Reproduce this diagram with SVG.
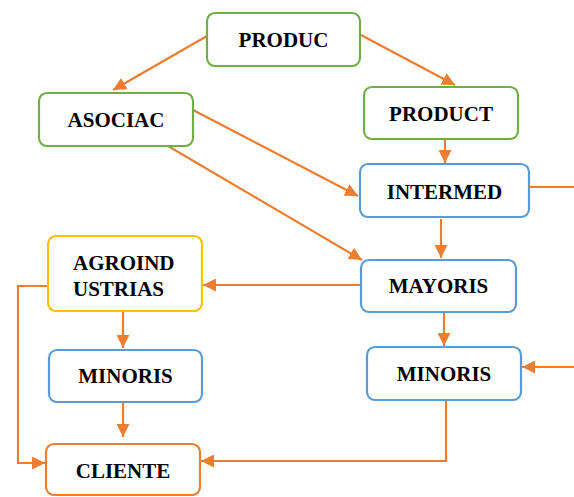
<svg xmlns="http://www.w3.org/2000/svg" width="574" height="497" viewBox="0 0 574 497">
<style>
.box{fill:#fff;stroke-width:2.2}
.g{stroke:#70AD47}
.b{stroke:#5B9BD5}
.y{stroke:#FFC000}
.o{stroke:#ED7D31}
.t{font-family:"Liberation Serif","Times New Roman",serif;font-weight:bold;font-size:21px;fill:#000;text-anchor:middle}
.c{stroke:#ED7D31;stroke-width:2.2;fill:none}
.a{marker-end:url(#ah)}
</style>
<defs>
<marker id="ah" markerUnits="userSpaceOnUse" markerWidth="13" markerHeight="13" refX="13" refY="6.5" orient="auto">
<path d="M0,0 L13,6.5 L0,13 z" fill="#ED7D31"/>
</marker>
</defs>
<rect width="574" height="497" fill="#fff"/>
<g id="connectors">
<line class="c a" x1="207" y1="36" x2="113" y2="90"/>
<line class="c a" x1="361" y1="35" x2="455" y2="85"/>
<line class="c a" x1="445" y1="140" x2="445" y2="163"/>
<line class="c a" x1="193" y1="110" x2="358" y2="196"/>
<line class="c a" x1="168" y1="146" x2="362" y2="260"/>
<line class="c a" x1="441" y1="219" x2="441" y2="258"/>
<line class="c" x1="530" y1="187" x2="574" y2="187"/>
<line class="c a" x1="361" y1="285" x2="203" y2="285"/>
<line class="c a" x1="444" y1="312" x2="444" y2="346"/>
<line class="c a" x1="574" y1="367" x2="522" y2="367"/>
<polyline class="c a" points="446,400 446,461 201,461"/>
<line class="c a" x1="123" y1="312" x2="123" y2="348"/>
<line class="c a" x1="123" y1="403" x2="123" y2="437"/>
<polyline class="c a" points="48,286 18,286 18,463 45,463"/>
</g>
<g id="produc">
<rect class="box g" x="207" y="13" width="153" height="53" rx="8"/>
<text class="t" x="283.5" y="47">PRODUC</text>
</g>
<g id="asociac">
<rect class="box g" x="39" y="93" width="154" height="53" rx="8"/>
<text class="t" x="116" y="127">ASOCIAC</text>
</g>
<g id="product">
<rect class="box g" x="364" y="87" width="154" height="52" rx="8"/>
<text class="t" x="441" y="121">PRODUCT</text>
</g>
<g id="intermed">
<rect class="box b" x="360" y="164" width="169" height="53" rx="8"/>
<text class="t" x="444.5" y="199">INTERMED</text>
</g>
<g id="mayoris">
<rect class="box b" x="361" y="260" width="155" height="52" rx="8"/>
<text class="t" x="438.5" y="293">MAYORIS</text>
</g>
<g id="minoris-right">
<rect class="box b" x="367" y="347" width="154" height="53" rx="8"/>
<text class="t" x="444" y="381">MINORIS</text>
</g>
<g id="agroindustrias">
<rect class="box y" x="48" y="236" width="154" height="75" rx="8"/>
<text class="t" x="73" y="270" style="text-anchor:start">AGROIND</text>
<text class="t" x="73" y="296" style="text-anchor:start">USTRIAS</text>
</g>
<g id="minoris-left">
<rect class="box b" x="49" y="350" width="153" height="52" rx="8"/>
<text class="t" x="125.5" y="383">MINORIS</text>
</g>
<g id="cliente">
<rect class="box o" x="46" y="444" width="154" height="51" rx="8"/>
<text class="t" x="123" y="478">CLIENTE</text>
</g>
</svg>
